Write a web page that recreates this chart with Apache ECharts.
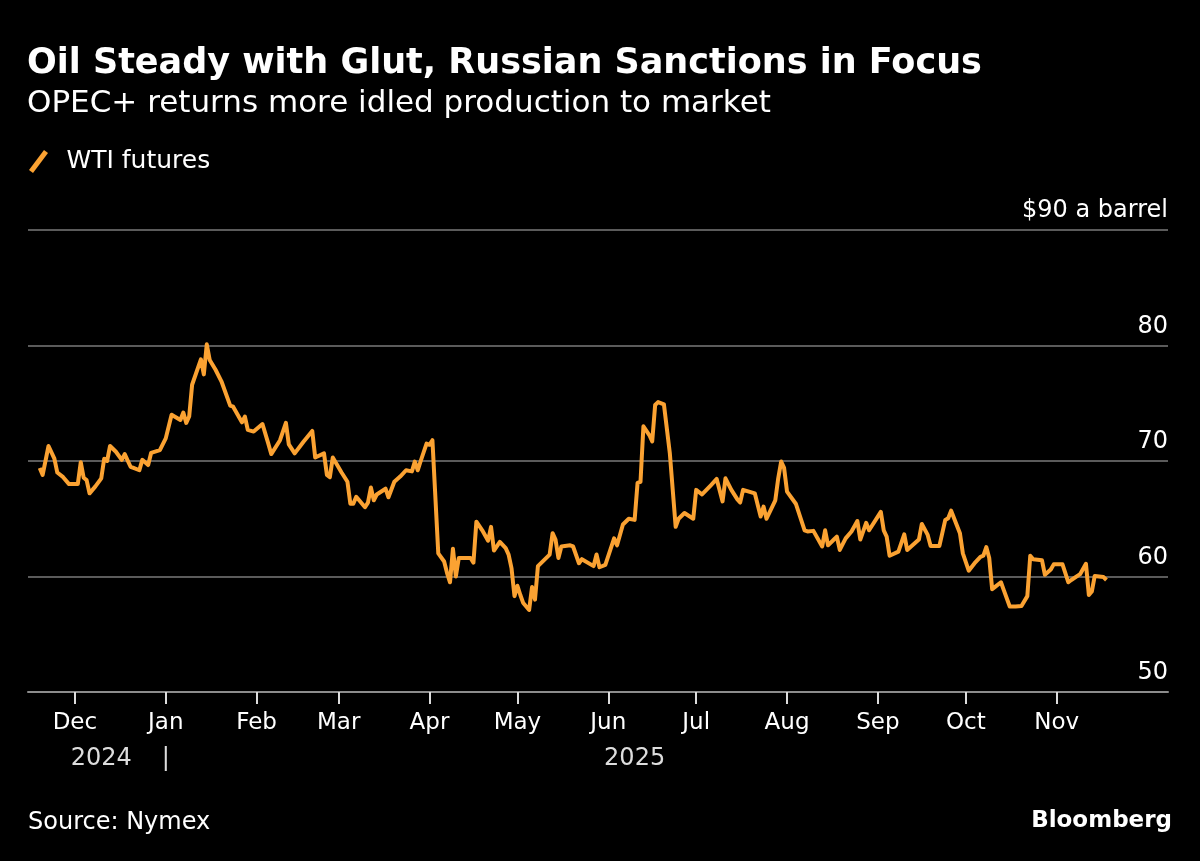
<!DOCTYPE html>
<html>
<head>
<meta charset="utf-8">
<script src="https://cdn.jsdelivr.net/npm/echarts@6/dist/echarts.min.js"></script>
<style>
  html, body { margin: 0; padding: 0; background: #000; }
  #chart { width: 1200px; height: 861px; }
</style>
</head>
<body>
<div id="chart"></div>
<script>
const titleText = 'Oil Steady with Glut, Russian Sanctions in Focus';
const subtitleText = 'OPEC+ returns more idled production to market';
const seriesName = 'WTI futures';
const sourceText = 'Source: Nymex';
const brandText = 'Bloomberg';

const dates = [
'2024-11-19','2024-11-20','2024-11-22','2024-11-24','2024-11-25','2024-11-27','2024-11-29',
'2024-12-02','2024-12-03','2024-12-04','2024-12-05','2024-12-06','2024-12-08','2024-12-10','2024-12-11','2024-12-12','2024-12-13','2024-12-15','2024-12-17','2024-12-18','2024-12-20','2024-12-21','2024-12-23','2024-12-24','2024-12-26','2024-12-27','2024-12-30',
'2025-01-01','2025-01-03','2025-01-06','2025-01-07','2025-01-08','2025-01-09','2025-01-10','2025-01-13','2025-01-14','2025-01-15','2025-01-16','2025-01-18','2025-01-20','2025-01-23','2025-01-24','2025-01-27','2025-01-28','2025-01-29','2025-01-31',
'2025-02-03','2025-02-05','2025-02-06','2025-02-09','2025-02-11','2025-02-12','2025-02-14','2025-02-17','2025-02-20','2025-02-21','2025-02-24','2025-02-25','2025-02-26','2025-02-27',
'2025-03-02','2025-03-04','2025-03-05','2025-03-06','2025-03-07','2025-03-09','2025-03-10','2025-03-11','2025-03-12','2025-03-13','2025-03-14','2025-03-17','2025-03-18','2025-03-20','2025-03-22','2025-03-24','2025-03-26','2025-03-27','2025-03-28','2025-03-29','2025-03-31',
'2025-04-01','2025-04-02','2025-04-04','2025-04-06','2025-04-07','2025-04-08','2025-04-09','2025-04-10','2025-04-11','2025-04-15','2025-04-16','2025-04-17','2025-04-19','2025-04-21','2025-04-22','2025-04-23','2025-04-25','2025-04-27','2025-04-28','2025-04-29','2025-04-30',
'2025-05-01','2025-05-02','2025-05-03','2025-05-05','2025-05-06','2025-05-07','2025-05-08','2025-05-10','2025-05-12','2025-05-13','2025-05-14','2025-05-15','2025-05-16','2025-05-19','2025-05-20','2025-05-22','2025-05-23','2025-05-27','2025-05-28','2025-05-29','2025-05-31',
'2025-06-03','2025-06-04','2025-06-06','2025-06-08','2025-06-10','2025-06-11','2025-06-12','2025-06-13','2025-06-15','2025-06-16','2025-06-17','2025-06-18','2025-06-20','2025-06-22','2025-06-24','2025-06-25','2025-06-27','2025-06-30',
'2025-07-01','2025-07-03','2025-07-06','2025-07-08','2025-07-10','2025-07-11','2025-07-13','2025-07-15','2025-07-16','2025-07-17','2025-07-19','2025-07-21','2025-07-23','2025-07-24','2025-07-25','2025-07-28','2025-07-29','2025-07-30','2025-07-31',
'2025-08-01','2025-08-04','2025-08-07','2025-08-08','2025-08-10','2025-08-13','2025-08-14','2025-08-15','2025-08-17','2025-08-18','2025-08-19','2025-08-21','2025-08-23','2025-08-25','2025-08-26','2025-08-28','2025-08-29',
'2025-09-02','2025-09-03','2025-09-04','2025-09-05','2025-09-08','2025-09-10','2025-09-11','2025-09-15','2025-09-16','2025-09-18','2025-09-19','2025-09-22','2025-09-24','2025-09-25','2025-09-26','2025-09-29','2025-09-30',
'2025-10-02','2025-10-04','2025-10-06','2025-10-07','2025-10-08','2025-10-09','2025-10-10','2025-10-11','2025-10-13','2025-10-14','2025-10-16','2025-10-18','2025-10-20','2025-10-22','2025-10-23','2025-10-24','2025-10-27','2025-10-28','2025-10-30','2025-10-31',
'2025-11-03','2025-11-05','2025-11-06','2025-11-09','2025-11-11','2025-11-12','2025-11-13','2025-11-14','2025-11-17','2025-11-18'
];

const prices = [
69.4, 68.8, 71.3, 70.2, 69.0, 68.6, 68.0,
68.0, 69.9, 68.55, 68.35, 67.2, 67.8, 68.5, 70.2, 70.0, 71.3, 70.8, 70.1, 70.6, 69.5, 69.4, 69.2, 70.1, 69.65, 70.7, 70.95,
71.96, 74.0, 73.55, 74.2, 73.3, 73.85, 76.6, 78.8, 77.5, 80.1, 78.75, 77.9, 76.9, 74.8, 74.7, 73.35, 73.85, 72.7, 72.55,
73.2, 71.5, 70.6, 71.8, 73.3, 71.44, 70.66, 71.67, 72.6, 70.3, 70.66, 68.8, 68.6, 70.3,
69.0, 68.2, 66.3, 66.3, 66.9, 66.3, 66.0, 66.4, 67.7, 66.6, 67.1, 67.6, 66.86, 68.2, 68.65, 69.2, 69.1, 69.95, 69.2, 70.0, 71.5,
71.4, 71.8, 62.0, 61.3, 60.3, 59.5, 62.4, 60.0, 61.6, 61.6, 61.2, 64.75, 64.0, 63.1, 64.3, 62.25, 63.0, 62.45, 61.9, 60.7, 58.3,
59.2, 58.4, 57.7, 57.1, 59.1, 58.0, 60.9, 61.4, 61.9, 63.75, 63.2, 61.6, 62.6, 62.7, 62.6, 61.15, 61.5, 60.9, 61.9, 60.8, 61.0,
63.3, 62.7, 64.5, 65.0, 64.9, 68.1, 68.2, 73.0, 72.25, 71.7, 74.85, 75.1, 74.9, 70.7, 64.3, 65.0, 65.5, 65.0,
67.5, 67.1, 67.9, 68.45, 66.5, 68.5, 67.5, 66.7, 66.4, 67.5, 67.35, 67.2, 65.2, 66.05, 65.0, 66.6, 68.5, 69.95, 69.4,
67.35, 66.3, 64.0, 63.9, 63.95, 62.6, 64.0, 62.7, 63.2, 63.45, 62.3, 63.3, 63.9, 64.8, 63.2, 64.65, 64.0,
65.6, 64.0, 63.45, 61.8, 62.15, 63.65, 62.3, 63.2, 64.55, 63.6, 62.65, 62.65, 64.9, 65.05, 65.7, 63.75, 62.0,
60.5, 61.15, 61.7, 61.8, 62.55, 61.6, 58.9, 59.1, 59.5, 58.8, 57.4, 57.4, 57.45, 58.3, 61.8, 61.5, 61.4, 60.15, 60.6, 61.05,
61.05, 59.5, 59.7, 60.2, 61.1, 58.4, 58.7, 60.05, 59.95, 59.7
];

const monthTicks = ['2024-12-01','2025-01-01','2025-02-01','2025-03-01','2025-04-01','2025-05-01','2025-06-01','2025-07-01','2025-08-01','2025-09-01','2025-10-01','2025-11-01'];
const monthLabels = ['Dec','Jan','Feb','Mar','Apr','May','Jun','Jul','Aug','Sep','Oct','Nov'];
const yearMarks = ['2024-12-10','2025-01-01','2025-06-10'];
const yearLabels = ['2024','|','2025'];
const axisStart = '2024-11-15';
const axisEnd = '2025-12-09';
const yMin = 50, yMax = 90, yStep = 10;
const yUnit = '$90 a barrel';

function ts(s) {
  const p = s.split('-').map(Number);
  return Date.UTC(p[0], p[1] - 1, p[2]);
}
const monthTs = monthTicks.map(ts);
const yearTs = yearMarks.map(ts);
const seriesData = dates.map((d, i) => [ts(d), prices[i]]);

function lookup(list, labels, v) {
  let best = 0, bd = Infinity;
  list.forEach((t, i) => { const dd = Math.abs(t - v); if (dd < bd) { bd = dd; best = i; } });
  return labels[best];
}

const FONT = 'DejaVu Sans';
const ORANGE = '#fba232';

const chart = echarts.init(document.getElementById('chart'), null, { renderer: 'canvas' });
chart.setOption({
  backgroundColor: '#000',
  animation: false,
  title: [
    { text: titleText, left: 27, top: 46, padding: 0,
      textStyle: { color: '#fff', fontFamily: FONT, fontWeight: 'bold', fontSize: 35 } },
    { text: subtitleText, left: 27, top: 88, padding: 0,
      textStyle: { color: '#fff', fontFamily: FONT, fontWeight: 'normal', fontSize: 31 } },
    { text: sourceText, left: 28, top: 811, padding: 0,
      textStyle: { color: '#fff', fontFamily: FONT, fontWeight: 'normal', fontSize: 24 } },
    { text: brandText, right: 28, top: 810, padding: 0,
      textStyle: { color: '#fff', fontFamily: FONT, fontWeight: 'bold', fontSize: 23 } }
  ],
  legend: {
    left: 29, top: 149, padding: 0,
    itemWidth: 20, itemHeight: 23,
    icon: 'path://M0,20 L15,0 L19,3 L4,23 Z',
    data: [seriesName],
    textStyle: { color: '#fff', fontFamily: FONT, fontSize: 25, padding: [2, 0, 0, 13] }
  },
  grid: { left: 28, right: 32, top: 230, bottom: 169 },
  xAxis: [
    {
      type: 'value', min: ts(axisStart), max: ts(axisEnd), position: 'bottom',
      axisLine: { show: true, lineStyle: { color: '#8c8c8c', width: 2 } },
      axisTick: { show: true, length: 12, customValues: monthTs, lineStyle: { color: '#dddddd', width: 2 } },
      axisLabel: { customValues: monthTs, formatter: v => lookup(monthTs, monthLabels, v),
        color: '#fff', fontFamily: FONT, fontSize: 23, margin: 20, hideOverlap: false,
        showMinLabel: true, showMaxLabel: true },
      splitLine: { show: false }
    },
    {
      type: 'value', min: ts(axisStart), max: ts(axisEnd), position: 'bottom',
      axisLine: { show: false }, axisTick: { show: false }, splitLine: { show: false },
      axisLabel: { customValues: yearTs, formatter: v => lookup(yearTs, yearLabels, v),
        color: '#dddddd', fontFamily: FONT, fontSize: 24, margin: 55, hideOverlap: false,
        showMinLabel: true, showMaxLabel: true }
    }
  ],
  yAxis: {
    type: 'value', position: 'right', min: yMin, max: yMax, interval: yStep,
    axisLine: { show: false }, axisTick: { show: false },
    splitLine: { show: true, lineStyle: { color: '#7a7a7a', width: 1.5 } },
    axisLabel: {
      inside: true, margin: 0, verticalAlign: 'bottom', padding: [0, 0, 7, 0],
      color: '#fff', fontFamily: FONT, fontSize: 24,
      formatter: v => (v === yMax ? yUnit : String(v))
    }
  },
  series: [{
    name: seriesName, type: 'line', xAxisIndex: 0, data: seriesData,
    showSymbol: false, symbol: 'none',
    lineStyle: { color: ORANGE, width: 4, join: 'round' },
    itemStyle: { color: ORANGE }
  }]
});
</script>
</body>
</html>
